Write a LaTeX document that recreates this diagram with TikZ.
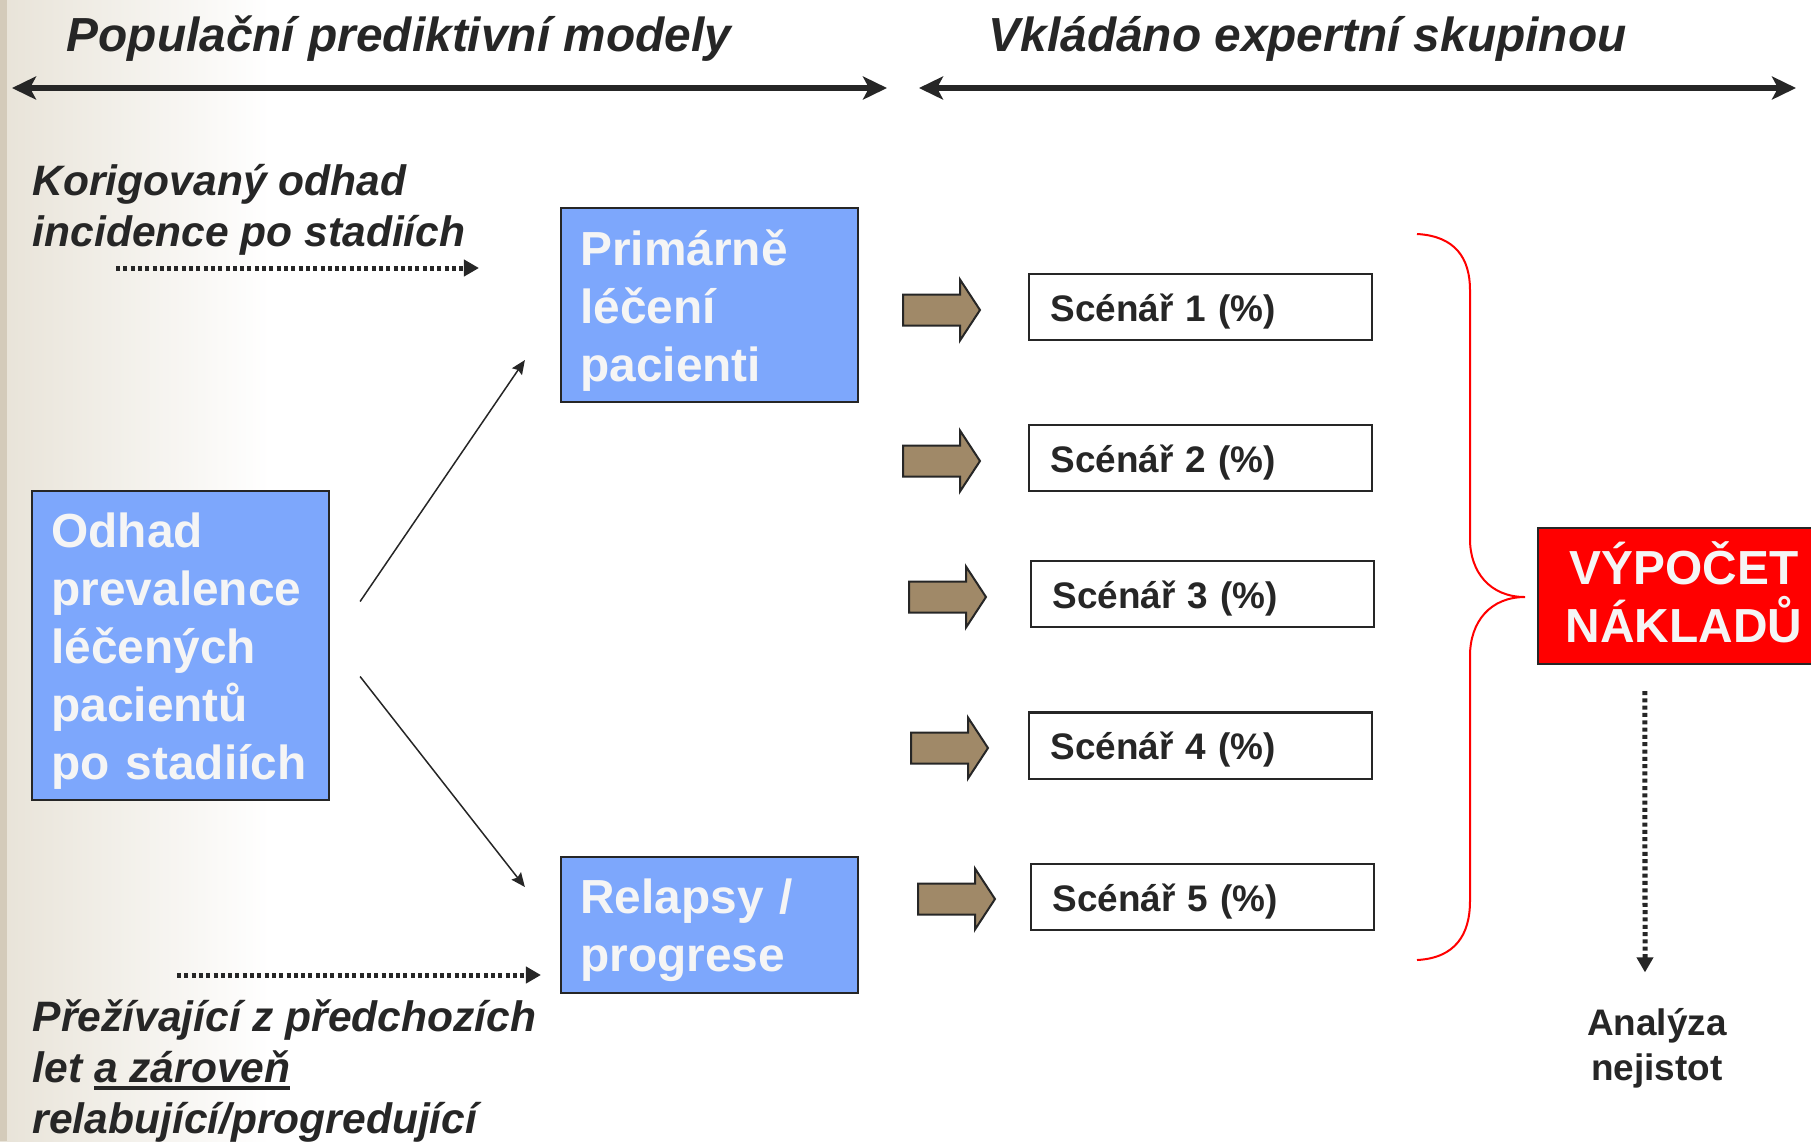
\documentclass[tikz,border=0pt]{standalone}
\usepackage{fontspec}
\setmainfont{Liberation Sans}
\usetikzlibrary{arrows.meta, positioning}
\definecolor{ink}{RGB}{38,38,38}
\definecolor{boxblue}{RGB}{125,167,252}
\definecolor{khaki}{RGB}{160,137,104}
\definecolor{beige}{RGB}{232,227,216}
\definecolor{beigedark}{RGB}{212,203,186}
\newcommand*{\boxfont}{\fontsize{13.6}{16.5}\selectfont\bfseries}
\newcommand*{\notefont}{\fontsize{12.1}{14.5}\selectfont\bfseries\itshape}
\newcommand*{\scenfont}{\fontsize{10.5}{12.8}\selectfont\bfseries}
\newcommand*{\thickul}[1]{\setbox0\hbox{#1}\rlap{\rule[-0.07cm]{\wd0}{0.04cm}}\box0}
% single fat arrow, #1 = left end of shaft
\newcommand*{\fatarrow}[1]{%
  \draw [fatarrow] (#1) ++(0,-15.5) -- ++(57,0) -- ++(0,-15) -- ++(20,30.5)
    -- ++(-20,30.5) -- ++(0,-15) -- ++(-57,0) -- cycle;}
\tikzstyle{block} = [draw=ink, line width=0.02cm, rectangle, inner sep=0pt]
\tikzstyle{group} = [block, fill=boxblue, text=white!96!black, font=\boxfont, align=left, text width=2.58cm, minimum width=2.97cm, execute at begin node={\rule{0pt}{0.46cm}}]
\tikzstyle{scenario} = [block, fill=white, text=ink, font=\scenfont, align=left, text width=3.0cm, minimum width=3.43cm, minimum height=0.66cm, execute at begin node={\rule{0pt}{0.365cm}}]
\tikzstyle{result} = [block, fill=red, text=white!96!black, font=\boxfont, align=center, minimum width=2.92cm, minimum height=1.36cm, execute at end node={\rule[-0.07cm]{0pt}{0.07cm}}]
\tikzstyle{note} = [text=ink, font=\notefont, align=left, inner sep=0pt]
\tikzstyle{span} = [{Stealth[length=0.24cm, width=0.23cm, inset=0.06cm]}-{Stealth[length=0.24cm, width=0.23cm, inset=0.06cm]}, draw=ink, line width=0.06cm]
\tikzstyle{dotpath} = [-{Triangle[length=0.15cm, width=0.16cm]}, draw=ink, line width=0.05cm, dash pattern=on 0.04cm off 0.033cm]
\tikzstyle{path} = [-{Stealth[length=0.14cm, width=0.12cm, inset=0.02cm]}, draw=ink, line width=0.015cm]
\tikzstyle{fatarrow} = [draw=ink, line width=0.02cm, fill=khaki, line join=miter]
\tikzstyle{brace} = [draw=red, line width=0.02cm]

\begin{document}
\begin{tikzpicture}[x=0.01cm, y=-0.01cm]
    \useasboundingbox (0,0) rectangle (1811,1141);
    % Background.
    \fill [left color=beige, right color=white] (0,0) rectangle (270,1141);
    \fill [beigedark] (0,0) rectangle (7,1141);

    % Headings.
    \node (pop) [note, font=\fontsize{13.6}{16}\selectfont\bfseries\itshape, anchor=west] at (66,38.5) {Populační prediktivní modely};
    \node (exp) [note, font=\fontsize{13.6}{16}\selectfont\bfseries\itshape, anchor=west] at (988,38.5) {Vkládáno expertní skupinou};
    \coordinate (pop l) at (12,88);
    \coordinate (pop r) at (887,88);
    \coordinate (exp l) at (919,88);
    \coordinate (exp r) at (1796,88);
    \draw [span] (pop l) -- (pop r);
    \draw [span] (exp l) -- (exp r);

    % Blocks.
    \node (prim) [group, minimum height=1.94cm] at (709.5,305) {Primárně\\léčení\\pacienti};
    \node (odhad) [group, minimum height=3.09cm] at (180.5,645.5) {Odhad\\prevalence\\léčených\\pacientů\\po stadiích};
    \node (relaps) [group, minimum height=1.36cm] at (709.5,925) {Relapsy /\\progrese};
    \node (incid) [note, anchor=north west] at (32,163.5) {Korigovaný odhad\\incidence po stadiích};
    \node (surv) [note, anchor=north west] at (32,999.5) {Přežívající z předchozích\\let \thickul{a zároveň}\\relabující/progredující};

    \node (sc1) [scenario] at (1200.5,307) {Scénář 1 (\%)};
    \node (sc2) [scenario] at (1200.5,458) {Scénář 2 (\%)};
    \node (sc3) [scenario] at (1202.5,594) {Scénář 3 (\%)};
    \node (sc4) [scenario] at (1200.5,745.5) {Scénář 4 (\%)};
    \node (sc5) [scenario] at (1202.5,897) {Scénář 5 (\%)};

    \node (cost) [result] at (1684,596) {VÝPOČET\\NÁKLADŮ};
    \node (unc) [note, font=\scenfont, align=center] at (1657,1048.5) {Analýza\\nejistot};

    % Arrows.
    \coordinate (incid end) at (479,268);
    \coordinate (surv end) at (541,975);
    \draw [dotpath] (incid end -| 116,0) -- (incid end);
    \draw [dotpath] (surv end -| 177,0) -- (surv end);
    \draw [path] ([xshift=0.30cm, yshift=0.44cm]odhad.east) -- ([xshift=-0.35cm, yshift=-0.55cm]prim.west);
    \draw [path] ([xshift=0.30cm, yshift=-0.31cm]odhad.east) -- ([xshift=-0.35cm, yshift=0.38cm]relaps.west);
    \draw [dotpath] ([xshift=-0.39cm, yshift=-0.26cm]cost.south) -- ([xshift=-0.12cm, yshift=0.355cm]unc.north);

    \fatarrow{903,310}
    \fatarrow{903,461}
    \fatarrow{909,597}
    \fatarrow{911,748}
    \fatarrow{918,899}

    % Brace.
    \draw [brace] (1417,234) .. controls (1455,236) and (1470,258) .. (1470,290)
        -- (1470,539) .. controls (1470,572) and (1490,597) .. (1525,597)
        .. controls (1490,597) and (1470,622) .. (1470,656)
        -- (1470,901) .. controls (1470,935) and (1455,958) .. (1417,960);
\end{tikzpicture}
\end{document}
